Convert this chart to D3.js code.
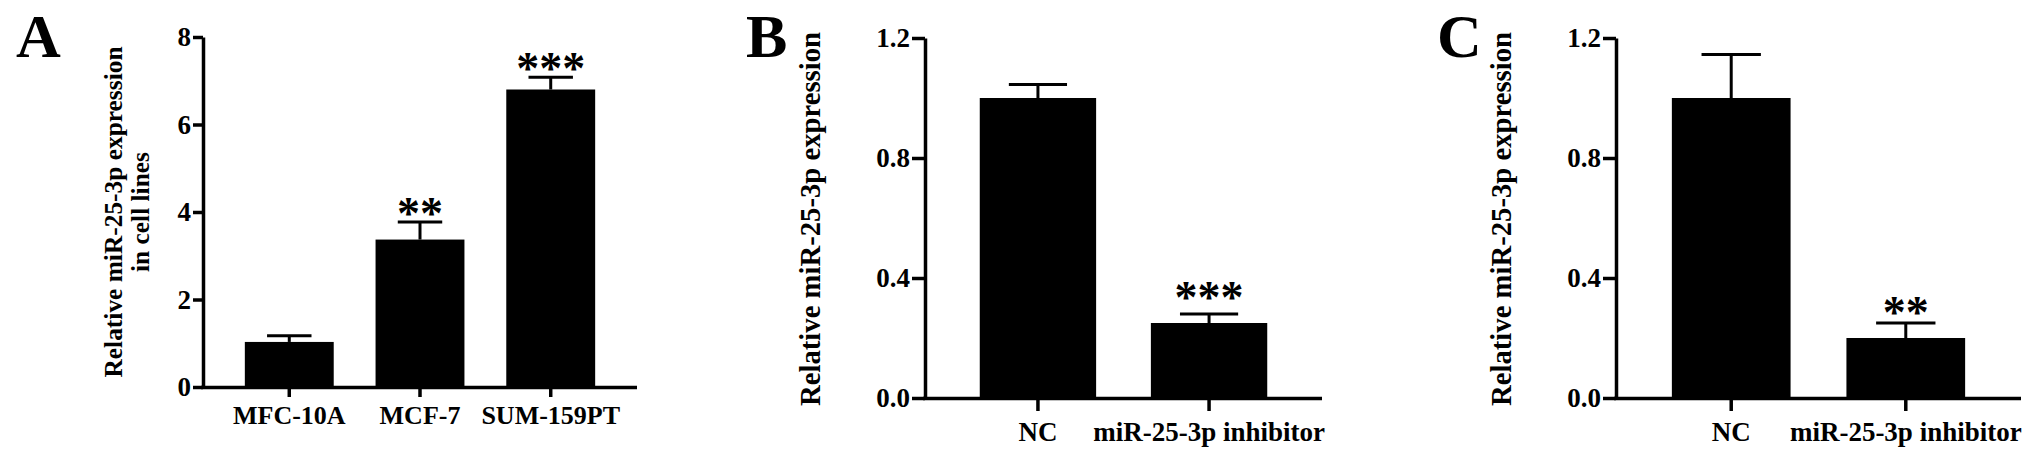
<!DOCTYPE html>
<html>
<head>
<meta charset="utf-8">
<script src="https://cdn.jsdelivr.net/npm/d3@7"></script>
<style>
  html, body { margin: 0; padding: 0; background: #fff; }
  svg { display: block; }
  text { font-family: "Liberation Serif", "Times New Roman", serif; font-weight: bold; fill: #000; }
</style>
</head>
<body>
<svg id="chart" width="2031" height="464"></svg>
<script>
// ---- Data ----
const aCategories = ["MFC-10A", "MCF-7", "SUM-159PT"];
const aValues = [1.03, 3.37, 6.80];
const aErrors = [0.14, 0.40, 0.28];
const aStars = ["", "**", "***"];
const aTicks = [0, 2, 4, 6, 8];
const aYLabel = ["Relative miR-25-3p expression", "in cell lines"];

const bCategories = ["NC", "miR-25-3p inhibitor"];
const bValues = [1.0, 0.25];
const bErrors = [0.045, 0.03];
const bStars = ["", "***"];
const bTicks = [0.0, 0.4, 0.8, 1.2];
const bYLabel = ["Relative miR-25-3p expression"];

const cCategories = ["NC", "miR-25-3p inhibitor"];
const cValues = [1.0, 0.20];
const cErrors = [0.145, 0.05];
const cStars = ["", "**"];
const cTicks = [0.0, 0.4, 0.8, 1.2];
const cYLabel = ["Relative miR-25-3p expression"];

const svg = d3.select("#chart");
svg.append("rect").attr("width", 2031).attr("height", 464).attr("fill", "#fff");

function drawPanel(cfg) {
  const g = svg.append("g");
  const x = d3.scaleBand().domain(cfg.categories)
    .range([cfg.x0, cfg.x1]).paddingInner(0.32).paddingOuter(0.32);
  const y = d3.scaleLinear().domain([0, cfg.yMax]).range([cfg.yBottom, cfg.yTop]);
  const data = cfg.categories.map((c, i) => ({ c, v: cfg.values[i], e: cfg.errors[i], s: cfg.stars[i] }));

  g.selectAll("rect.bar").data(data).join("rect")
    .attr("class", "bar")
    .attr("x", d => x(d.c))
    .attr("width", x.bandwidth())
    .attr("y", d => y(d.v))
    .attr("height", d => y(0) - y(d.v))
    .attr("fill", "#000");

  const bw = x.bandwidth();
  g.selectAll("line.err").data(data).join("line")
    .attr("x1", d => x(d.c) + bw / 2).attr("x2", d => x(d.c) + bw / 2)
    .attr("y1", d => y(d.v)).attr("y2", d => y(d.v + d.e))
    .attr("stroke", "#000").attr("stroke-width", 3);
  g.selectAll("line.cap").data(data).join("line")
    .attr("x1", d => x(d.c) + bw / 4).attr("x2", d => x(d.c) + bw * 3 / 4)
    .attr("y1", d => y(d.v + d.e)).attr("y2", d => y(d.v + d.e))
    .attr("stroke", "#000").attr("stroke-width", 3);

  g.selectAll("text.star").data(data.filter(d => d.s)).join("text")
    .attr("x", d => x(d.c) + bw / 2)
    .attr("y", d => y(d.v + d.e) - cfg.starGap + 12.5)
    .attr("text-anchor", "middle")
    .style("font-size", "46px")
    .text(d => d.s);

  const yAxis = g.append("g").attr("transform", `translate(${cfg.x0},0)`)
    .call(d3.axisLeft(y).tickValues(cfg.ticks).tickFormat(cfg.fmt).tickSize(cfg.yTick).tickSizeOuter(0).tickPadding(2));
  yAxis.selectAll("path, line").attr("stroke", "#000").attr("stroke-width", 3.5);
  yAxis.selectAll("text").style("font-size", "27px").style("font-family", null);

  const xAxis = g.append("g").attr("transform", `translate(0,${cfg.yBottom})`)
    .call(d3.axisBottom(x).tickSize(cfg.xTick).tickSizeOuter(0).tickPadding(cfg.xPad));
  xAxis.select("path.domain").attr("d", `M${cfg.x0 - 2},0.5H${cfg.x1}`);
  xAxis.selectAll("path, line").attr("stroke", "#000").attr("stroke-width", 3.5);
  xAxis.selectAll("text").style("font-size", cfg.xFont + "px").style("font-family", null);

  const yl = g.append("text")
    .attr("transform", `translate(0,${cfg.labelY}) rotate(-90)`)
    .attr("text-anchor", "middle")
    .style("font-size", cfg.labelSize + "px");
  cfg.yLabel.forEach((t, i) => {
    yl.append("tspan").attr("x", 0).attr("y", cfg.labelX[i]).text(t);
  });

  g.append("text").attr("x", cfg.letterX).attr("y", 57)
    .style("font-size", "62px").text(cfg.letter);
}

drawPanel({
  letter: "A", letterX: 16, categories: aCategories, values: aValues, errors: aErrors, stars: aStars,
  ticks: aTicks, yMax: 8, fmt: d3.format("d"), x0: 203, x1: 637, yTop: 37, yBottom: 387,
  yLabel: aYLabel, labelX: [122, 149], labelY: 212, labelSize: 25.4, xFont: 26, starGap: 6,
  yTick: 10, xTick: 10, xPad: 9
});
drawPanel({
  letter: "B", letterX: 746, categories: bCategories, values: bValues, errors: bErrors, stars: bStars,
  ticks: bTicks, yMax: 1.2, fmt: d3.format(".1f"), x0: 925, x1: 1322, yTop: 38, yBottom: 398,
  yLabel: bYLabel, labelX: [820], labelY: 219, labelSize: 28.7, xFont: 27, starGap: 14,
  yTick: 13, xTick: 13, xPad: 11
});
drawPanel({
  letter: "C", letterX: 1437, categories: cCategories, values: cValues, errors: cErrors, stars: cStars,
  ticks: cTicks, yMax: 1.2, fmt: d3.format(".1f"), x0: 1616, x1: 2021, yTop: 38, yBottom: 398,
  yLabel: cYLabel, labelX: [1511], labelY: 219, labelSize: 28.7, xFont: 27, starGap: 8,
  yTick: 13, xTick: 13, xPad: 11
});
</script>
</body>
</html>
